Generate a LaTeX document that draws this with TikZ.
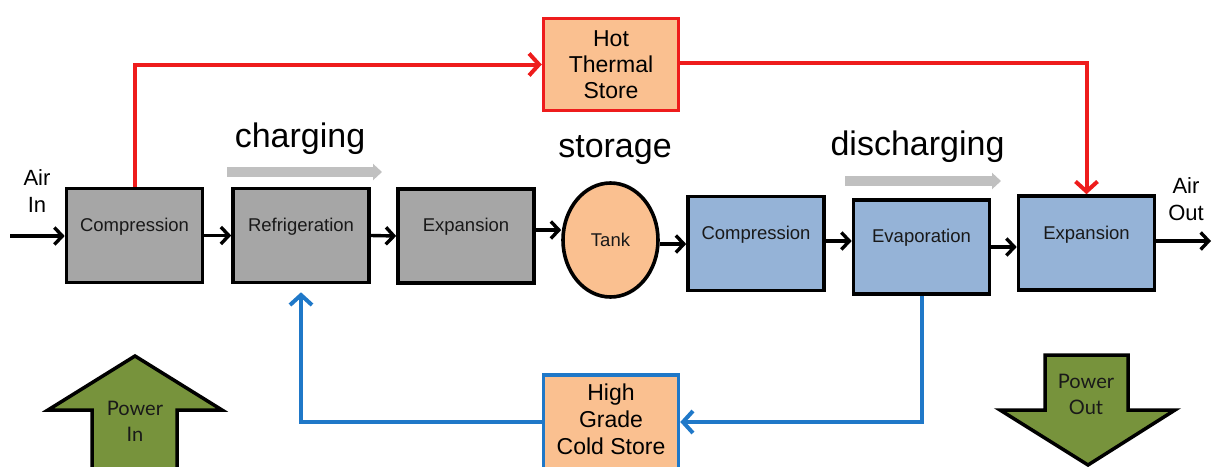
\documentclass[tikz,border=0pt]{standalone}
\usepackage{fontspec}
\setmainfont{Liberation Sans}
\newfontfamily\gillfont{Lato}
\usetikzlibrary{arrows.meta,shapes.geometric}
\definecolor{boxgray}{HTML}{A6A6A6}
\definecolor{boxblue}{HTML}{95B3D7}
\definecolor{boxorange}{HTML}{FAC090}
\definecolor{pgreen}{HTML}{77933C}
\definecolor{hotred}{HTML}{EE1C1C}
\definecolor{coldblue}{HTML}{1F78C8}
\definecolor{bargray}{HTML}{C0C0C0}
\tikzset{
  procbox/.style={draw=black, line width=3.6pt, minimum width=136pt, minimum height=94pt, inner sep=0pt},
  graybox/.style={procbox, fill=boxgray},
  bluebox/.style={procbox, fill=boxblue},
  lbl/.style={font=\fontsize{18.5}{20}\selectfont, text=black!90},
  flow/.style={line width=3.4pt, -{Straight Barb[length=8pt,width=17pt,line width=3.4pt]}},
  hotflow/.style={line width=4pt, draw=hotred, -{Straight Barb[length=10pt,width=22pt,line width=4pt]}},
  coldflow/.style={line width=4pt, draw=coldblue, -{Straight Barb[length=10pt,width=22pt,line width=4pt]}},
  store/.style={fill=boxorange, line width=3.5pt, minimum width=135pt, minimum height=92pt, inner sep=0pt, align=center, font=\fontsize{23}{26}\selectfont},
  header/.style={font=\fontsize{34}{40}\selectfont, anchor=base},
  sidetext/.style={font=\fontsize{22}{27}\selectfont, align=center},
  bar/.style={line width=10pt, draw=bargray, -{Triangle[length=9pt,width=16pt]}},
  powerarrow/.style={fill=pgreen, draw=black, line width=3.5pt, line join=miter},
  powertext/.style={font=\gillfont\fontsize{20}{26}\selectfont, align=center, text=black!90}
}
\begin{document}
\begin{tikzpicture}[x=1pt,y=-1pt]
\useasboundingbox (0,0) rectangle (1218,466);

% process boxes
\node[graybox, label={[lbl,yshift=8.5pt]center:Compression}] (b1) at (134.5,235.5) {};
\node[graybox, label={[lbl,yshift=8.5pt]center:Refrigeration}] (b2) at (301,235.5) {};
\node[graybox, label={[lbl,yshift=9pt]center:Expansion}] (b3) at (466,236) {};
\node[draw=black, line width=3.6pt, fill=boxorange, ellipse, minimum width=95pt, minimum height=114pt, inner sep=0pt, lbl] (tank) at (610.5,240) {Tank};
\node[bluebox, label={[lbl,yshift=8.5pt]center:Compression}] (b4) at (756,243.5) {};
\node[bluebox, label={[lbl,yshift=9pt]center:Evaporation}] (b5) at (921.5,247) {};
\node[bluebox, label={[lbl,yshift=8pt]center:Expansion}] (b6) at (1086.5,243) {};

% stores
\node[store, draw=hotred] (hot) at (611,64.5) {Hot\\Thermal\\Store};
\node[store, draw=coldblue, minimum height=105pt, anchor=north] (cold) at (611,373) {};
\node[font=\fontsize{23}{27}\selectfont, align=center, anchor=north] (coldtxt) at (611,380) {High\\Grade\\Cold Store};

% headers
\node[header] (hcharge) at (300,147) {charging};
\node[header] (hstore) at (615,157) {storage};
\node[header] (hdis) at (917.5,155) {discharging};

% gray direction bars
\coordinate (c1) at (227,172);
\coordinate (c2) at (382,172);
\coordinate (d1) at (845,181);
\coordinate (d2) at (1001,181);
\draw[bar] (c1) -- (c2);
\draw[bar] (d1) -- (d2);

% air in / out
\coordinate (ain) at (10,236);
\coordinate (aout) at (1211,241);
\node[sidetext] (airin) at (37,191) {Air\\In};
\node[sidetext] (airout) at (1186,199) {Air\\Out};
\draw[flow] (ain) -- (b1.west |- ain);
\draw[flow] (b6.east |- aout) -- (aout);

% main flow
\draw[flow] (b1.east) -- (b2.west);
\draw[flow] (b2.east) -- (b3.west);
\draw[flow] (b3.east |- 0,230) -- ([yshift=10pt]tank.west);
\draw[flow] ([yshift=-4pt]tank.east) -- (b4.west |- 0,244);
\draw[flow] (b4.east |- 0,241) -- (b5.west |- 0,241);
\draw[flow] (b5.east) -- (b6.west |- b5.east);

% hot loop
\draw[hotflow] (b1.north) |- (hot.west);
\draw[hotflow] ([yshift=2pt]hot.east) -| (b6.north);

% cold loop
\coordinate (cy) at (0,422);
\draw[coldflow] (b5.south) |- (cold.east |- cy);
\draw[coldflow, shorten >=8pt] (cold.west |- cy) -| (b2.south);

% power arrows
\draw[powerarrow] (135,356) -- (222,410) -- (177,410) -- (177,480) -- (92,480) -- (92,410) -- (48,410) -- cycle;
\node[powertext] (pin) at (135,421) {Power\\In};
\draw[powerarrow] (1045,355) -- (1128,355) -- (1128,410) -- (1175,410) -- (1088,465) -- (1000,410) -- (1045,410) -- cycle;
\node[powertext] (pout) at (1086,394) {Power\\Out};
\end{tikzpicture}
\end{document}
